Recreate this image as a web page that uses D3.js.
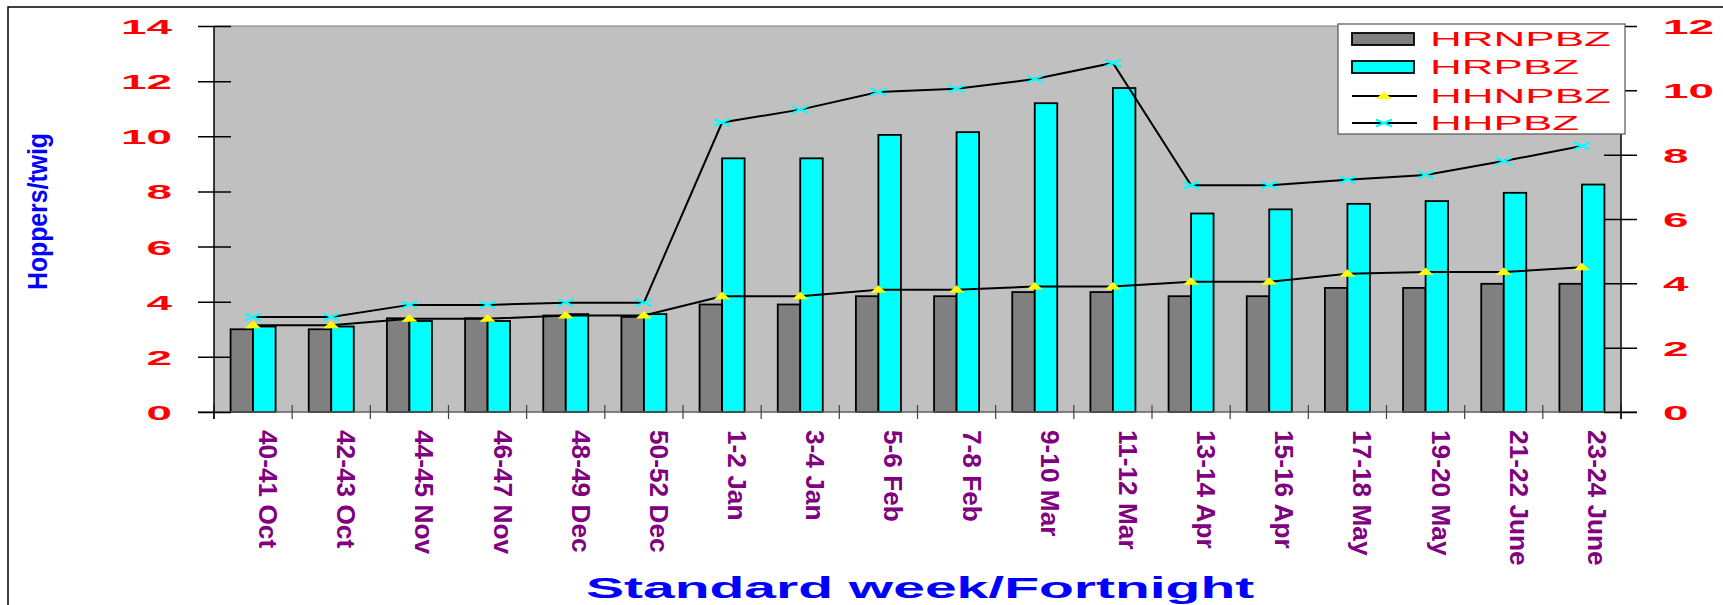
<!DOCTYPE html>
<html>
<head>
<meta charset="utf-8">
<script src="https://cdn.jsdelivr.net/npm/d3@7"></script>
<style>
  html, body { margin: 0; padding: 0; background: #fff; }
  svg { display: block; font-family: "Liberation Sans", Arial, sans-serif; }
</style>
</head>
<body>
<svg id="chart" width="1723" height="605"></svg>
<script>
// Standard week / fortnight periods
const categories = ["40-41 Oct", "42-43 Oct", "44-45 Nov", "46-47 Nov", "48-49 Dec", "50-52 Dec",
  "1-2 Jan", "3-4 Jan", "5-6 Feb", "7-8 Feb", "9-10 Mar", "11-12 Mar",
  "13-14 Apr", "15-16 Apr", "17-18 May", "19-20 May", "21-22 June", "23-24 June"];

// Bar series (primary axis)
const hrnpbz = [3.0, 3.0, 3.4, 3.4, 3.5, 3.45, 3.9, 3.9, 4.2, 4.2, 4.35, 4.35, 4.2, 4.2, 4.5, 4.5, 4.65, 4.65];
const hrpbz  = [3.1, 3.1, 3.3, 3.3, 3.55, 3.55, 9.2, 9.2, 10.05, 10.15, 11.2, 11.75, 7.2, 7.35, 7.55, 7.65, 7.95, 8.25];

// Line series (secondary axis)
const hhnpbz = [2.7, 2.7, 2.9, 2.9, 3.0, 3.0, 3.6, 3.6, 3.8, 3.8, 3.9, 3.9, 4.05, 4.05, 4.3, 4.35, 4.35, 4.5];
const hhpbz  = [2.95, 2.95, 3.33, 3.33, 3.4, 3.4, 9.0, 9.4, 9.95, 10.05, 10.35, 10.85, 7.05, 7.05, 7.22, 7.37, 7.8, 8.27];

const seriesNames = ["HRNPBZ", "HRPBZ", "HHNPBZ", "HHPBZ"];
const leftTicks = [0, 2, 4, 6, 8, 10, 12, 14];
const rightTicks = [0, 2, 4, 6, 8, 10, 12];

const svg = d3.select("#chart");

const plot = { left: 214, right: 1621, top: 26, bottom: 412 };

const x = d3.scaleBand().domain(categories).range([plot.left, plot.right]).padding(0);
const groupW = 45;
const xs = d3.scaleBand().domain(["HRNPBZ", "HRPBZ"]).range([0, groupW]).padding(0);
const yL = d3.scaleLinear().domain([0, 14]).range([plot.bottom, plot.top]);
const yR = d3.scaleLinear().domain([0, 12]).range([plot.bottom, plot.top]);

// stretch text horizontally along its run by a factor
function stretch(sel, factor) {
  sel.each(function () {
    const n = this.getComputedTextLength();
    d3.select(this).attr("textLength", n * factor).attr("lengthAdjust", "spacingAndGlyphs");
  });
}

// outer frame
svg.append("rect").attr("x", 8).attr("y", 7).attr("width", 1800).attr("height", 700)
  .attr("fill", "none").attr("stroke", "#000").attr("stroke-width", 1.5);

// plot background
svg.append("rect").attr("x", plot.left).attr("y", plot.top)
  .attr("width", plot.right - plot.left).attr("height", plot.bottom - plot.top)
  .attr("fill", "#c0c0c0");
svg.append("line").attr("x1", plot.left).attr("x2", plot.right)
  .attr("y1", plot.top).attr("y2", plot.top).attr("stroke", "#808080").attr("stroke-width", 1);

// bars
const barData = categories.map((c, i) => ({ c, vals: [["HRNPBZ", hrnpbz[i], "#808080"], ["HRPBZ", hrpbz[i], "#00ffff"]] }));
const groups = svg.append("g").selectAll("g").data(barData).join("g")
  .attr("transform", d => `translate(${x(d.c) + (x.bandwidth() - groupW) / 2},0)`);
groups.selectAll("rect").data(d => d.vals).join("rect")
  .attr("x", d => xs(d[0]))
  .attr("width", xs.bandwidth())
  .attr("y", d => yL(d[1]))
  .attr("height", d => yL(0) - yL(d[1]))
  .attr("fill", d => d[2])
  .attr("stroke", "#000").attr("stroke-width", 1.8);

// bottom axis line and category boundary ticks
svg.append("line").attr("x1", 198).attr("x2", 1637).attr("y1", plot.bottom).attr("y2", plot.bottom)
  .attr("stroke", "#606060").attr("stroke-width", 1.5);
const bounds = categories.map(c => x(c)).concat([plot.right]);
svg.append("g").selectAll("line").data(bounds).join("line")
  .attr("x1", d => d).attr("x2", d => d)
  .attr("y1", plot.bottom - 7).attr("y2", plot.bottom + 7)
  .attr("stroke", "#404040").attr("stroke-width", 1.2);

// left axis
const gL = svg.append("g").attr("transform", `translate(${plot.left},0)`)
  .call(d3.axisLeft(yL).tickValues(leftTicks).tickSizeInner(16).tickSizeOuter(0).tickPadding(26));
gL.select(".domain").remove();
gL.selectAll(".tick line").attr("x2", -16).attr("x1", 17).attr("stroke", "#000").attr("stroke-width", 1.5);
gL.selectAll(".tick text").attr("fill", "#ff0000").attr("font-size", 21).attr("font-weight", "bold")
  .attr("font-family", "'Liberation Sans', Arial, sans-serif").attr("dy", "0.36em");
stretch(gL.selectAll(".tick text"), 2.18);
svg.append("line").attr("x1", plot.left).attr("x2", plot.left).attr("y1", plot.top).attr("y2", plot.bottom + 7)
  .attr("stroke", "#000").attr("stroke-width", 1.5);

// right axis
const gR = svg.append("g").attr("transform", `translate(${plot.right},0)`)
  .call(d3.axisRight(yR).tickValues(rightTicks).tickSizeInner(16).tickSizeOuter(0).tickPadding(26));
gR.select(".domain").remove();
gR.selectAll(".tick line").attr("x2", 16).attr("x1", -17).attr("stroke", "#000").attr("stroke-width", 1.5);
gR.selectAll(".tick text").attr("fill", "#ff0000").attr("font-size", 21).attr("font-weight", "bold")
  .attr("font-family", "'Liberation Sans', Arial, sans-serif").attr("dy", "0.36em");
stretch(gR.selectAll(".tick text"), 2.18);
svg.append("line").attr("x1", plot.right).attr("x2", plot.right).attr("y1", plot.top).attr("y2", plot.bottom + 7)
  .attr("stroke", "#000").attr("stroke-width", 1.5);

// lines on secondary axis
const cx = c => x(c) + x.bandwidth() / 2;
const lineGen = d3.line().x(d => cx(d[0])).y(d => yR(d[1]));
const hhnData = categories.map((c, i) => [c, hhnpbz[i]]);
const hhpData = categories.map((c, i) => [c, hhpbz[i]]);
svg.append("path").datum(hhnData).attr("d", lineGen).attr("fill", "none").attr("stroke", "#000").attr("stroke-width", 2);
svg.append("path").datum(hhpData).attr("d", lineGen).attr("fill", "none").attr("stroke", "#000").attr("stroke-width", 2);

const triPath = "M0,-4.5L8,3L-8,3Z";
const crossPath = "M-8,-3.5L8,3.5M-8,3.5L8,-3.5";
svg.append("g").selectAll("path").data(hhnData).join("path")
  .attr("transform", d => `translate(${cx(d[0])},${yR(d[1])})`)
  .attr("d", triPath).attr("fill", "#ffff00");
svg.append("g").selectAll("path").data(hhpData).join("path")
  .attr("transform", d => `translate(${cx(d[0])},${yR(d[1])})`)
  .attr("d", crossPath).attr("fill", "none").attr("stroke", "#00ffff").attr("stroke-width", 2);

// category labels, rotated to read downward
const lab = svg.append("g").selectAll("text").data(categories).join("text")
  .attr("transform", d => `translate(${cx(d) + 6},430) rotate(90)`)
  .attr("text-anchor", "start")
  .attr("fill", "#800080").attr("font-size", 25).attr("font-weight", "bold")
  .text(d => d);
stretch(lab, 1.05);

// axis titles
const xt = svg.append("text").attr("x", 586).attr("y", 598)
  .attr("fill", "#0000ff").attr("font-size", 30).attr("font-weight", "bold")
  .text("Standard week/Fortnight");
stretch(xt, 1.9);

const yt = svg.append("text").attr("transform", "translate(47,290) rotate(-90)")
  .attr("fill", "#0000ff").attr("font-size", 28).attr("font-weight", "bold")
  .text("Hoppers/twig");
yt.attr("textLength", 157).attr("lengthAdjust", "spacingAndGlyphs");

// legend
const lg = svg.append("g").attr("transform", "translate(1338,24)");
lg.append("rect").attr("width", 287).attr("height", 110).attr("fill", "#fff")
  .attr("stroke", "#555").attr("stroke-width", 1.2);
const rowY = [15, 43, 72, 99];
const colors = ["#808080", "#00ffff"];
seriesNames.forEach((name, i) => {
  const row = lg.append("g").attr("transform", `translate(0,${rowY[i]})`);
  if (i < 2) {
    row.append("rect").attr("x", 14).attr("y", -6).attr("width", 62).attr("height", 12)
      .attr("fill", colors[i]).attr("stroke", "#000").attr("stroke-width", 1.8);
  } else {
    row.append("line").attr("x1", 14).attr("x2", 79).attr("y1", 0).attr("y2", 0)
      .attr("stroke", "#000").attr("stroke-width", 2);
    if (i === 2) {
      row.append("path").attr("transform", "translate(46,0)").attr("d", triPath).attr("fill", "#ffff00");
    } else {
      row.append("path").attr("transform", "translate(46,0)").attr("d", crossPath)
        .attr("fill", "none").attr("stroke", "#00ffff").attr("stroke-width", 2);
    }
  }
  const t = row.append("text").attr("x", 92).attr("y", 7).attr("fill", "#ff0000")
    .attr("font-size", 20).text(name);
  stretch(t, 2.2);
});
</script>
</body>
</html>
